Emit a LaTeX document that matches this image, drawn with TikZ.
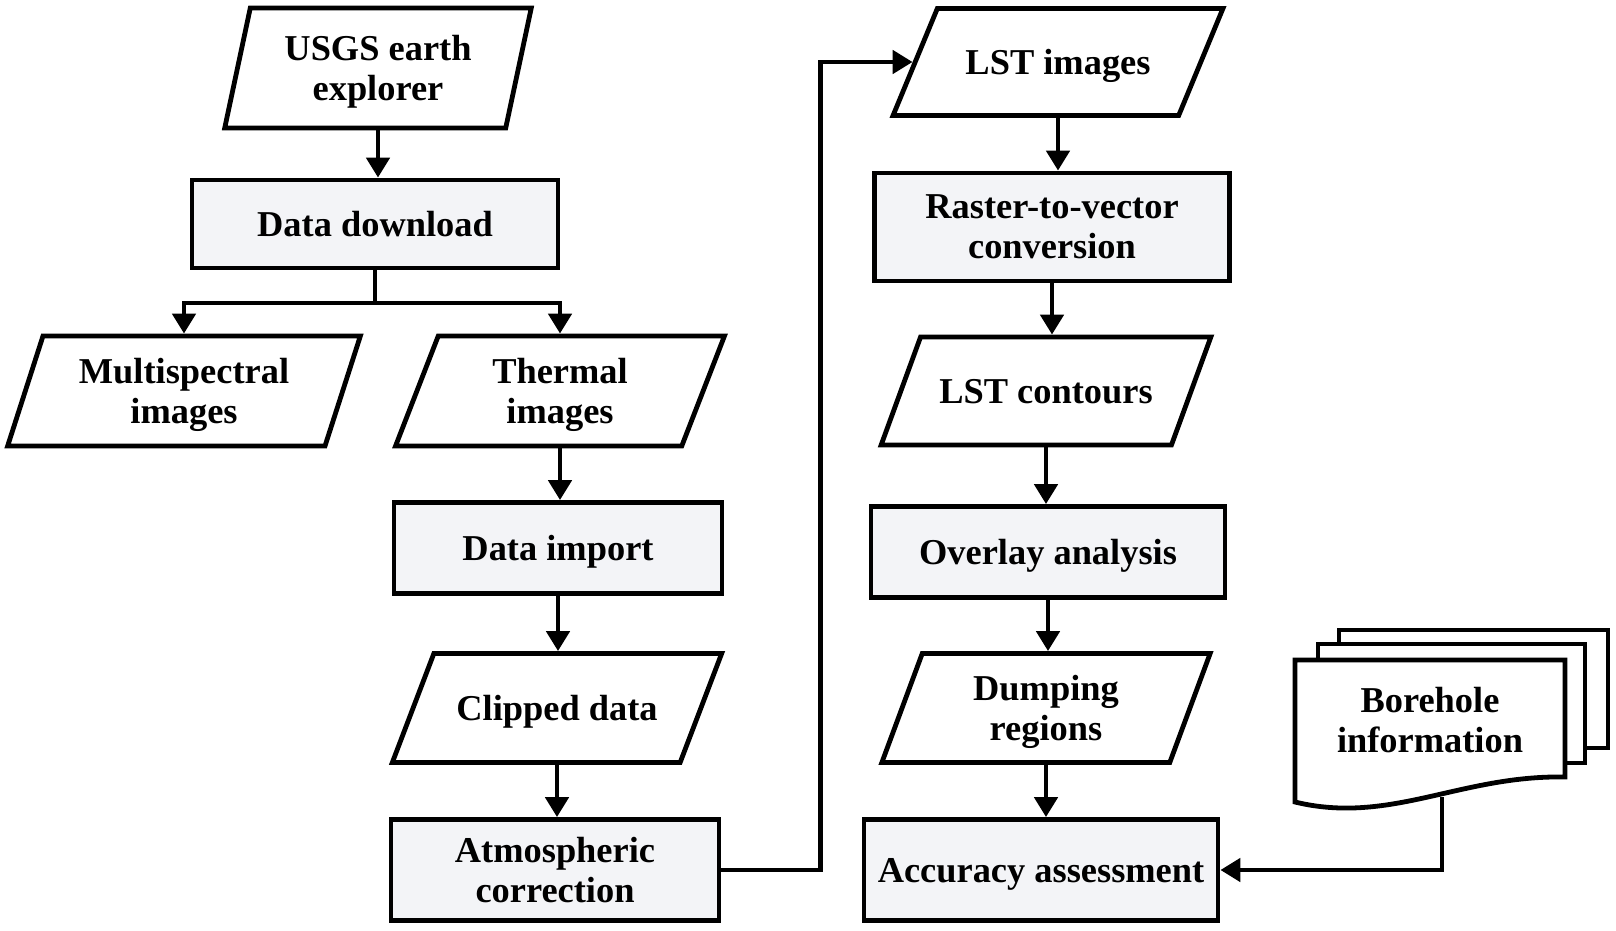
\documentclass[tikz,border=0pt]{standalone}
\usepackage{fontspec}
\setmainfont{Liberation Serif}
\usetikzlibrary{shapes.geometric,arrows.meta}
\definecolor{boxfill}{RGB}{243,244,247}
\tikzstyle{io} = [draw, trapezium, trapezium left angle=70, trapezium right angle=110, trapezium stretches=true, minimum width=165pt, minimum height=54.5pt, align=center, inner sep=0pt, text depth=0pt, font=\fontsize{18.2}{20}\selectfont\bfseries]
\tikzstyle{oneline} = [inner ysep=17pt]
\tikzstyle{process} = [draw, fill=boxfill, rectangle, minimum width=164pt, align=center, inner sep=0pt, text depth=0pt, font=\fontsize{18.2}{20}\selectfont\bfseries]
\tikzstyle{docpage} = [draw, fill=white]
\tikzstyle{arrow} = [-{Triangle[length=10pt,width=11.5pt]}]

\begin{document}
\begin{tikzpicture}[x=0.5pt, y=-0.5pt, line width=2.4pt]
    \useasboundingbox (0,0) rectangle (1616,931);
    % left part
    \draw (378,68) node[io, trapezium left angle=74, trapezium right angle=106, minimum width=153.5pt, minimum height=60pt] (usgs) {USGS earth\\explorer};
    \draw (375,224) node[process, minimum width=183pt, minimum height=44pt] (dd) {Data download};
    \draw (184,391) node[io, trapezium left angle=68, trapezium right angle=112, minimum width=176.5pt, minimum height=55pt] (ms) {Multispectral\\images};
    \draw (560,391) node[io, minimum height=55pt] (th) {Thermal\\images};
    \draw (558,548) node[process, minimum height=45.5pt] (di) {Data import};
    \draw (557,708) node[io, oneline] (cd) {Clipped data};
    \draw (555,870) node[process, minimum height=50.5pt] (ac) {Atmospheric\\correction};
    % right part
    \draw (1058,62) node[io, oneline, minimum height=53.5pt] (ls) {LST images};
    \draw (1052,227) node[process, minimum width=177.5pt, minimum height=54pt] (rv) {Raster-to-vector\\conversion};
    \draw (1046,391) node[io, oneline, minimum height=54pt] (lc) {LST contours};
    \draw (1048,552) node[process, minimum width=177pt, minimum height=45.5pt] (oa) {Overlay analysis};
    \draw (1046,708) node[io] (dr) {Dumping\\regions};
    \draw (1041,870) node[process, minimum width=177pt, minimum height=50.5pt] (aa) {Accuracy assessment};
    % borehole pages
    \draw[docpage] (1339,630) rectangle (1608,748);
    \draw[docpage] (1318,644) rectangle (1585,763);
    \draw[docpage] (1295,660) -- (1565,660) -- (1565,777) .. controls (1460,775) and (1390,825) .. (1295,802) -- cycle;
    \node[align=center, text depth=0pt, font=\fontsize{18.2}{20}\selectfont\bfseries] (bh) at (1430,720) {Borehole\\information};
    \coordinate (bhfoot) at (1442,797);
    \coordinate (split) at (375,303);
    % connectors
    \draw[arrow] (usgs.center |- usgs.south) -- (usgs.center |- dd.north);
    \draw (dd.south) -- (split);
    \draw[arrow] (split) -| (ms.center |- ms.north);
    \draw[arrow] (split) -| (th.center |- th.north);
    \draw[arrow] (th.center |- th.south) -- (th.center |- di.north);
    \draw[arrow] (di.south) -- (di.south |- cd.north);
    \draw[arrow] (cd.center |- cd.south) -- (cd.center |- ac.north);
    \draw[arrow] (ac.east) -- ++(99,0) |- (ls.left side);
    \draw[arrow] (ls.center |- ls.south) -- (ls.center |- rv.north);
    \draw[arrow] (rv.south) -- (rv.south |- lc.north);
    \draw[arrow] (lc.center |- lc.south) -- (lc.center |- oa.north);
    \draw[arrow] (oa.south) -- (oa.south |- dr.north);
    \draw[arrow] (dr.center |- dr.south) -- (dr.center |- aa.north);
    \draw[arrow] (bhfoot) |- (aa.east);
\end{tikzpicture}
\end{document}
